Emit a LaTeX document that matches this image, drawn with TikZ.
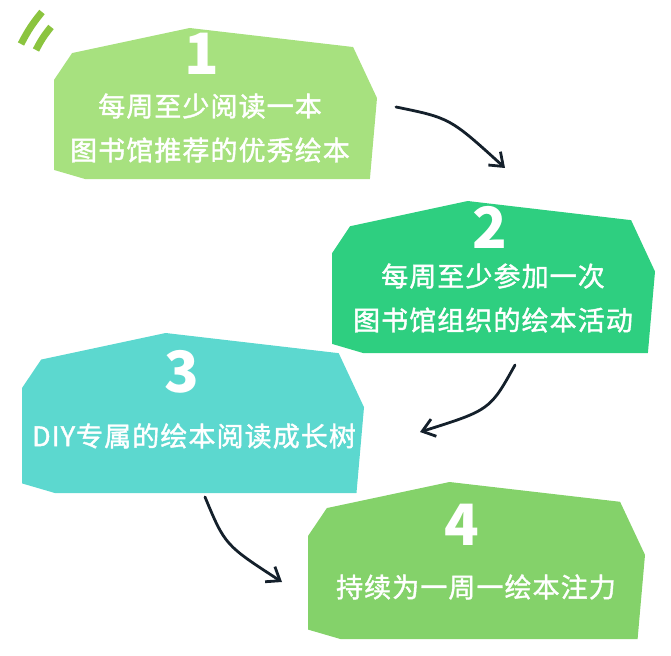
\documentclass[tikz,border=0pt]{standalone}
\usepackage{fontspec}
\usepackage{tikz}
\usetikzlibrary{arrows.meta}

\newfontfamily\cjk{Noto Sans CJK SC}[LetterSpace=4,FakeBold=1.4]
\newfontfamily\cjknum{Noto Sans CJK SC}

\definecolor{stepone}{HTML}{A7E17F}
\definecolor{steptwo}{HTML}{2ECF80}
\definecolor{stepthree}{HTML}{5CD8CF}
\definecolor{stepfour}{HTML}{84D26A}
\definecolor{decogreen}{HTML}{8BC43F}
\definecolor{arrowink}{HTML}{14202B}

\newcommand{\stepblob}[5]{%
  \begin{scope}[shift={(#1,#2)},xscale=#3,yscale=#4]
    \fill[#5] (0.056,0.166) -- (0.42,0) -- (0.926,0.126) -- (1,0.464)
      -- (0.978,1) -- (0.096,1) -- (0,0.94) -- (0,0.344) -- cycle;
  \end{scope}}

\begin{document}
\begin{tikzpicture}[x=1pt,y=-1pt,
    steptext/.style={text=white,align=center,font=\cjk\fontsize{27}{44}\selectfont},
    stepnum/.style={text=white,inner sep=0pt,font=\cjknum\bfseries\fontsize{57}{57}\selectfont},
    flow/.style={draw=arrowink,line width=2.8pt,line cap=round,
      -{Straight Barb[length=12pt,width=18pt,line width=2.8pt]}},
    deco/.style={draw=decogreen,line width=7pt}]
  \useasboundingbox (0,0) rectangle (671,655);

  \draw[deco] (21,44) to[bend left=6] (42,12);
  \draw[deco] (36,50) to[bend left=6] (51,27);

  \stepblob{54}{28}{323}{151}{stepone}
  \stepblob{332}{201}{323}{152}{steptwo}
  \stepblob{22}{333}{342}{160}{stepthree}
  \stepblob{308}{482}{337}{157}{stepfour}

  \node[stepnum] (n1) at (202,54) {1};
  \node[steptext] (t1) at (210,128) {每周至少阅读一本\\图书馆推荐的优秀绘本};

  \node[stepnum] (n2) at (490,227) {2};
  \node[steptext] (t2) at (493,298) {每周至少参加一次\\图书馆组织的绘本活动};

  \node[stepnum] (n3) at (182,372) {3};
  \node[steptext] (t3) at (194,436) {DIY专属的绘本阅读成长树};

  \node[stepnum] (n4) at (462,525) {4};
  \node[steptext] (t4) at (476,587) {持续为一周一绘本注力};

  \coordinate (a1s) at (396,107);
  \coordinate (a1e) at (505,168);
  \coordinate (a2s) at (515,365);
  \coordinate (a2e) at (420,432);
  \coordinate (a3s) at (205,497);
  \coordinate (a3e) at (282,582);

  \draw[flow] (a1s) .. controls (450,118) .. (a1e);
  \draw[flow] (a2s) .. controls (490,410) .. (a2e);
  \draw[flow] (a3s) .. controls (225,545) .. (a3e);
\end{tikzpicture}
\end{document}
